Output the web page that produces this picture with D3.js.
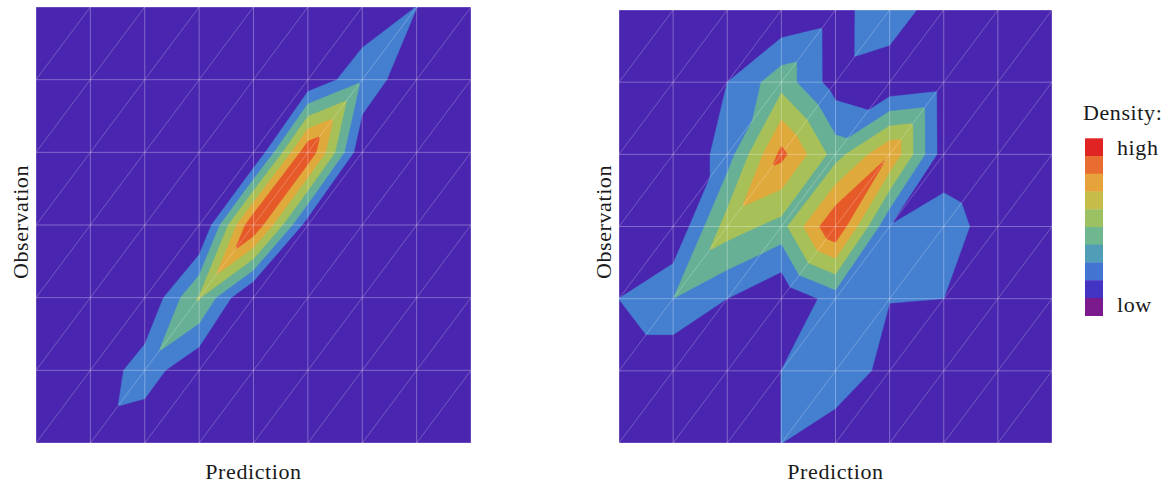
<!DOCTYPE html>
<html>
<head>
<meta charset="utf-8">
<script src="https://cdn.jsdelivr.net/npm/d3@7"></script>
<style>
  body { margin: 0; background: #fff; }
  text { font-family: "Liberation Serif", "Times New Roman", serif; font-size: 22px; fill: #1a1a1a; letter-spacing: 0.6px; }
</style>
</head>
<body>
<svg id="chart" width="1169" height="483"></svg>
<script>
// density values on the 9 x 7 node grid, rows from top to bottom
const leftDensity = [
  [0, 0, 0, 0, 0, 0, -0.06, 1.02, 0],
  [0, 0, 0, 0, 0, 0.05, 1.83, 0, 0],
  [0, 0, 0, 0, -0.35, 5.9, 0.1, 0, 0],
  [0, 0, 0, -0.45, 6.0, 0.42, 0, 0, 0],
  [0, 0, -0.1, 3.1, -0.45, 0, 0, 0, 0],
  [0, 0.03, 1.62, 0, 0, 0, 0, 0, 0],
  [0, 0.36, 0.03, 0, 0, 0, 0, 0, 0]
];
const rightDensity = [
  [0, 0, 0, 0, 0.47, 1.95, 0.05, 0, 0],
  [0, 0, 1.0, 2.6, 0.48, 0.01, 0.41, 0, 0],
  [0, -0.05, 1.49, 5.3, 2.56, 4.95, 0.44, 0, 0],
  [0, -0.05, 3.5, 2.62, 6.0, 1.02, 1.49, 0.47, 0],
  [1.01, 2.0, 1.0, 0.05, 1.46, 1.02, 1.0, 0, 0],
  [0, 0, 0, 1.01, 1.6, 0.7, 0, 0, 0],
  [0, 0, 0, 1.01, 0.45, 0, 0, 0, 0]
];

const levels = [-1, 1, 2, 3, 4, 5];
const levelColors = ["#4a26b0", "#4580d0", "#67b096", "#a7c058", "#e0a93c", "#e65a29"];

// legend swatches, high to low
const legendColors = ["#e02424", "#e96c30", "#e6a33c", "#c5bc4a", "#9cc162",
                      "#6fb88f", "#519cb6", "#4274d2", "#4434c4", "#7a1a8c"];
const legendLabels = ["high", "low"];

const svg = d3.select("#chart");
const res = 30;

// d3.contours puts sample k at k or k + 0.5 depending on version, so check
const probe = d3.contours().size([2, 1]).thresholds([0.5])([0, 1])[0].coordinates[0][0];
const offset = d3.min(probe, p => p[0]) - 0.5;

// linear interpolation on triangles (cells split bottom-left to top-right)
function refine(grid) {
  const rows = grid.length, cols = grid[0].length;
  const nx = (cols - 1) * res + 1, ny = (rows - 1) * res + 1;
  const values = new Float64Array(nx * ny);
  for (let y = 0; y < ny; y++) {
    const r = Math.min(Math.floor(y / res), rows - 2);
    const w = 1 - (y - r * res) / res;
    for (let x = 0; x < nx; x++) {
      const c = Math.min(Math.floor(x / res), cols - 2);
      const u = (x - c * res) / res;
      const tl = grid[r][c], tr = grid[r][c + 1], bl = grid[r + 1][c], br = grid[r + 1][c + 1];
      values[y * nx + x] = w >= u
        ? bl + (tl - bl) * (w - u) + (tr - bl) * u
        : bl + (br - bl) * (u - w) + (tr - bl) * w;
    }
  }
  return { nx, ny, values };
}

function panel(grid, box, id) {
  const cols = grid[0].length - 1, rows = grid.length - 1;
  const x = d3.scaleLinear().domain([0, cols]).range([box.left, box.right]);
  const y = d3.scaleLinear().domain([0, rows]).range([box.top, box.bottom]);
  const color = d3.scaleOrdinal().domain(levels).range(levelColors);

  svg.append("clipPath").attr("id", id)
    .append("rect")
    .attr("x", x(0)).attr("y", y(0))
    .attr("width", x(cols) - x(0)).attr("height", y(rows) - y(0));

  const fine = refine(grid);
  const bands = d3.contours().size([fine.nx, fine.ny]).thresholds(levels)(fine.values);
  const path = d3.geoPath(d3.geoTransform({
    point: function (px, py) {
      this.stream.point(x((px - offset) / res), y((py - offset) / res));
    }
  }));

  const g = svg.append("g").attr("clip-path", `url(#${id})`);
  g.selectAll("path.band")
    .data(bands)
    .enter().append("path")
    .attr("class", "band")
    .attr("d", path)
    .attr("fill", d => color(d.value))
    .attr("stroke", d => color(d.value))
    .attr("stroke-width", 0.4);

  // mesh lines
  const mesh = g.append("g")
    .attr("stroke", "#fff")
    .attr("stroke-opacity", 0.3)
    .attr("stroke-width", 1);
  mesh.selectAll("line.v")
    .data(d3.range(cols + 1))
    .enter().append("line")
    .attr("x1", d => x(d)).attr("x2", d => x(d))
    .attr("y1", y(0)).attr("y2", y(rows));
  mesh.selectAll("line.h")
    .data(d3.range(rows + 1))
    .enter().append("line")
    .attr("x1", x(0)).attr("x2", x(cols))
    .attr("y1", d => y(d)).attr("y2", d => y(d));
  const cells = d3.cross(d3.range(cols), d3.range(rows));
  mesh.selectAll("line.d")
    .data(cells)
    .enter().append("line")
    .attr("stroke-width", 0.8)
    .attr("x1", d => x(d[0])).attr("y1", d => y(d[1] + 1))
    .attr("x2", d => x(d[0] + 1)).attr("y2", d => y(d[1]));

  svg.append("text")
    .attr("x", (box.left + box.right) / 2)
    .attr("y", 479)
    .attr("text-anchor", "middle")
    .text("Prediction");

  svg.append("text")
    .attr("transform", `translate(${box.left - 8},222) rotate(-90)`)
    .attr("text-anchor", "middle")
    .text("Observation");
}

panel(leftDensity, { left: 36, right: 471, top: 7, bottom: 443 }, "clipL");
panel(rightDensity, { left: 619, right: 1052, top: 10, bottom: 443 }, "clipR");

// legend
const ly = d3.scaleBand().domain(d3.range(legendColors.length)).range([138.3, 315.7]);
const legend = svg.append("g");
legend.append("text").attr("x", 1083).attr("y", 120).text("Density:");
legend.selectAll("rect")
  .data(legendColors)
  .enter().append("rect")
  .attr("x", 1085)
  .attr("y", (d, i) => ly(i))
  .attr("width", 18)
  .attr("height", ly.bandwidth() + 0.3)
  .attr("fill", d => d);
legend.selectAll("text.lab")
  .data(legendLabels)
  .enter().append("text")
  .attr("class", "lab")
  .attr("x", 1117)
  .attr("y", (d, i) => i === 0 ? ly(0) + 16.5 : ly(legendColors.length - 1) + 14)
  .text(d => d);
</script>
</body>
</html>
